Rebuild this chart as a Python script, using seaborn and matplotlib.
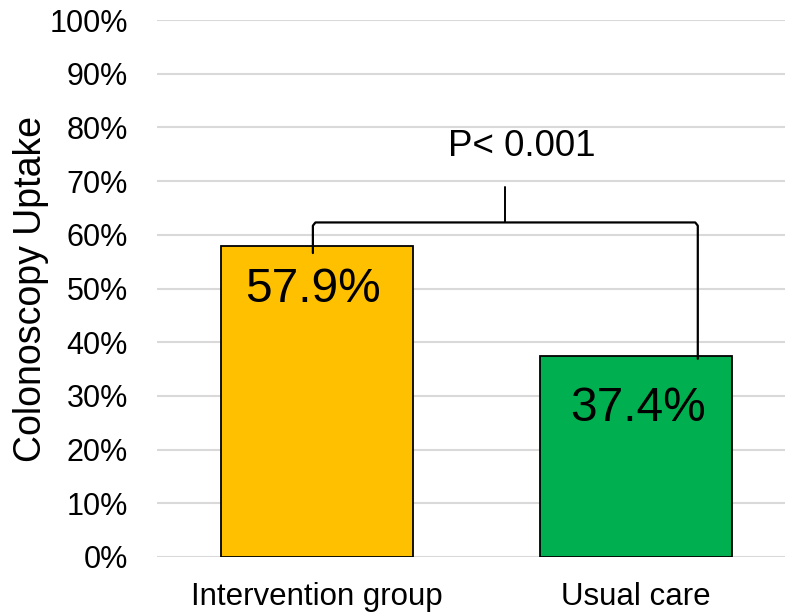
import matplotlib
matplotlib.use("Agg")
import matplotlib.pyplot as plt
import seaborn as sns
import pandas as pd

# Data
groups = ["Intervention group", "Usual care"]
uptake = [57.9, 37.4]
bar_colors = ["#FFC000", "#00B050"]
label_offsets_pt = [(-3, -31), (1.5, -38)]   # offsets of value labels inside bars
y_ticks = [0, 10, 20, 30, 40, 50, 60, 70, 80, 90, 100]
p_text = "P< 0.001"

sns.set_theme(style="white")
plt.rcParams["font.family"] = ["Liberation Sans", "DejaVu Sans"]
plt.rcParams["text.color"] = "black"
plt.rcParams["axes.labelcolor"] = "black"
plt.rcParams["xtick.color"] = "black"
plt.rcParams["ytick.color"] = "black"

df = pd.DataFrame({"group": groups, "uptake": uptake})

fig = plt.figure(figsize=(7.91, 6.13), dpi=100)
ax = fig.add_axes([157 / 791, 1 - 557 / 613, 628 / 791, 537 / 613])

ax.set_axisbelow(True)
for t in y_ticks:
    ax.axhline(t, color="#D9D9D9", lw=1.5, zorder=0)

sns.barplot(data=df, x="group", y="uptake", hue="group", palette=bar_colors,
            saturation=1, width=0.6, edgecolor="black", linewidth=1.3,
            legend=False, ax=ax, zorder=2)

for i, (v, off) in enumerate(zip(uptake, label_offsets_pt)):
    ax.annotate(f"{v}%", (i, v), xytext=off, textcoords="offset points",
                ha="center", va="center", fontsize=34.5, color="black", zorder=4)

# Significance bracket
x_left, x_right = -0.012, 1.193
y_bar = 62.3
r = 0.6
ax.plot([x_left, x_left, x_left + 0.008, x_right - 0.008, x_right, x_right],
        [56.6, y_bar - r, y_bar, y_bar, y_bar - r, 36.9],
        color="black", lw=1.6, solid_joinstyle="round", zorder=3, clip_on=False)
x_mid = (x_left + x_right) / 2
ax.plot([x_mid, x_mid], [y_bar, 68.9], color="black", lw=1.4, zorder=3)
ax.text(x_mid + 0.051, 76.5, p_text, ha="center", va="center", fontsize=26.5)

ax.set_xlim(-0.5, 1.466)
ax.set_ylim(0, 100)
ax.set_yticks(y_ticks)
ax.set_yticklabels([f"{t}%" for t in y_ticks], fontsize=22)
ax.tick_params(axis="y", length=0, pad=21)
ax.tick_params(axis="x", length=0, pad=18, labelsize=22.5)
ax.set_xlabel("")
ax.set_ylabel("Colonoscopy Uptake", fontsize=27, labelpad=0)
for s in ax.spines.values():
    s.set_visible(False)

fig.savefig("out.png", dpi=100)
